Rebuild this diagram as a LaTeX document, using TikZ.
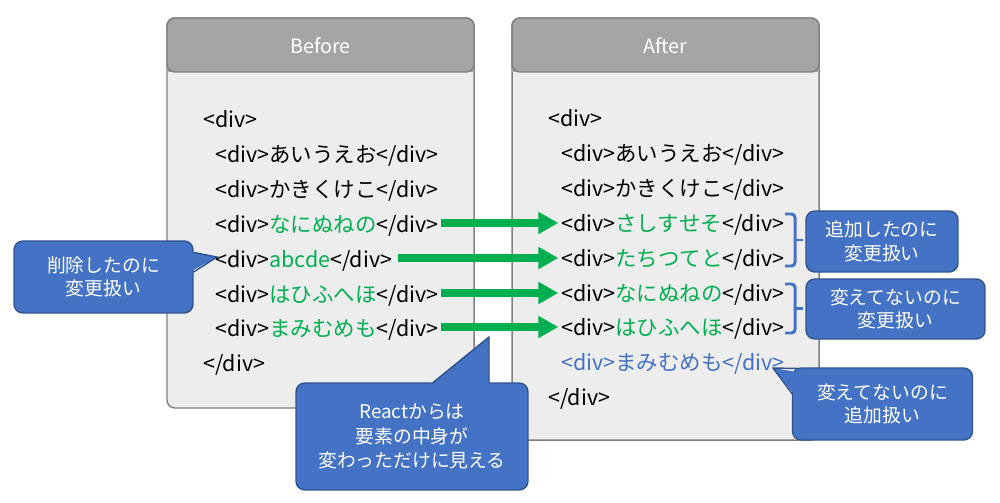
\documentclass[tikz,border=0pt]{standalone}
\usepackage{fontspec}
\setmainfont{Noto Sans CJK JP}
\definecolor{panel_bg}{rgb}{
	0.929, 0.929, 0.929
	}
\definecolor{panel_head}{rgb}{
	0.647, 0.647, 0.647
	}
\definecolor{panel_line}{rgb}{
	0.5, 0.5, 0.5
	}
\definecolor{code_green}{rgb}{
	0.0, 0.690, 0.314
	}
\definecolor{call_fill}{rgb}{
	0.267, 0.447, 0.769
	}
\definecolor{call_line}{rgb}{
	0.184, 0.322, 0.561
	}
\usetikzlibrary{arrows.meta,
                positioning}
\newcommand{\gr}[1]{\textcolor{code_green}{#1}}

\begin{document}
\begin{tikzpicture}[
			x=0.02cm, y=-0.02cm,
			panel/.style = {fill=panel_bg, draw=panel_line, line width=0.85pt, rounded corners=4.5pt},
			head/.style = {text=white, font=\fontsize{11.2}{13}\selectfont},
			code/.style = {anchor=west, inner sep=0pt, text height=1.1em, text depth=0pt, font=\fontsize{12.2}{14}\selectfont},
			move/.style = {code_green, line width=4pt, -{Triangle[length=0.4cm, width=0.42cm]}, shorten >=1.5pt},
			callout/.style = {rectangle, rounded corners=5pt, fill=call_fill, draw=call_line, line width=0.8pt,
			                  text=white, align=center, inner sep=0pt, font=\fontsize{10.7}{13.4}\selectfont},
			brack/.style = {call_fill, line width=1.7pt, rounded corners=2pt},
			]
			\useasboundingbox (0,0) rectangle (1000,503);
			% panels
			\draw[panel] (167,18) rectangle (474,408);
			\draw[panel] (512,18) rectangle (819,440);
			\begin{scope}
				\clip (160,10) rectangle (480,72);
				\fill[panel_head, rounded corners=4.5pt] (167,18) rectangle (474,408);
			\end{scope}
			\begin{scope}
				\clip (505,10) rectangle (825,72);
				\fill[panel_head, rounded corners=4.5pt] (512,18) rectangle (819,440);
			\end{scope}
			\draw[panel_line, line width=0.85pt, rounded corners=4.5pt] (167,72) |- (474,18) -- (474,72) -- cycle;
			\draw[panel_line, line width=0.85pt, rounded corners=4.5pt] (512,72) |- (819,18) -- (819,72) -- cycle;
			\node[head] (hb) at (320.5,46) {Before};
			\node[head] (ha) at (665.5,46) {After};
			% before
			\node[code] (b0) at (203,118) {<div>};
			\node[code] (b1) at (215,153) {<div>あいうえお</div>};
			\node[code] (b2) at (215,188) {<div>かきくけこ</div>};
			\node[code] (b3) at (215,223) {<div>\gr{なにぬねの}</div>};
			\node[code] (b4) at (215,258) {<div>\gr{abcde}</div>};
			\node[code] (b5) at (215,293) {<div>\gr{はひふへほ}</div>};
			\node[code] (b6) at (215,327) {<div>\gr{まみむめも}</div>};
			\node[code] (b7) at (203,362) {</div>};
			% after
			\node[code] (a0) at (548,117) {<div>};
			\node[code] (a1) at (561,152) {<div>あいうえお</div>};
			\node[code] (a2) at (561,187) {<div>かきくけこ</div>};
			\node[code] (a3) at (561,222) {<div>\gr{さしすせそ}</div>};
			\node[code] (a4) at (561,257) {<div>\gr{たちつてと}</div>};
			\node[code] (a5) at (561,292) {<div>\gr{なにぬねの}</div>};
			\node[code] (a6) at (561,326) {<div>\gr{はひふへほ}</div>};
			\node[code, text=call_fill] (a7) at (561,361) {<div>まみむめも</div>};
			\node[code] (a8) at (548,396) {</div>};
			% edges
			\draw[move] ([xshift=1pt]b3.east) -- (b3.east -| a3.west);
			\draw[move] ([xshift=3pt]b4.east) -- (b4.east -| a4.west);
			\draw[move] ([xshift=1pt]b5.east) -- (b5.east -| a5.west);
			\draw[move] ([xshift=1pt]b6.east) -- (b6.east -| a6.west);
			% brackets
			\draw[brack] (785,214) -| (795,266) -- (785,266);
			\draw[brack] (795,240) -- (803,240);
			\draw[brack] (785,284) -| (795,333) -- (785,333);
			\draw[brack] (795,308.5) -- (803,308.5);
			% notes
			\node[callout, minimum width=3.58cm, minimum height=1.44cm] (c1) at (103.5,277) {削除したのに\\変更扱い};
			\fill[call_fill] (188,252) -- (217,257) -- (188,273) -- cycle;
			\draw[call_line, line width=0.8pt] (c1.east |- 0,252.5) -- (217,257) -- (c1.east |- 0,272);
			\node[callout, minimum width=4.64cm, minimum height=2.14cm,
			      font=\fontsize{10.7}{14}\selectfont] (c2) at (412,436.5) {Reactからは\\要素の中身が\\変わっただけに見える};
			\fill[call_fill] (427,387) -- (489,337) -- (489,387) -- cycle;
			\draw[call_line, line width=0.8pt] (432.5,383) -- (489,337) -- (489,383);
			\node[callout, minimum width=3.04cm, minimum height=1.22cm] (c3) at (882,241.5) {追加したのに\\変更扱い};
			\node[callout, minimum width=3.58cm, minimum height=1.2cm] (c4) at (895.5,309) {変えてないのに\\変更扱い};
			\node[callout, minimum width=3.6cm, minimum height=1.44cm] (c5) at (882.5,404) {変えてないのに\\追加扱い};
			\fill[call_fill] (803,373) -- (773,368) -- (797,398) -- cycle;
			\draw[call_line, line width=0.8pt] (799,368.5) -- (773,368) -- (793,395);
\end{tikzpicture}
\end{document}
